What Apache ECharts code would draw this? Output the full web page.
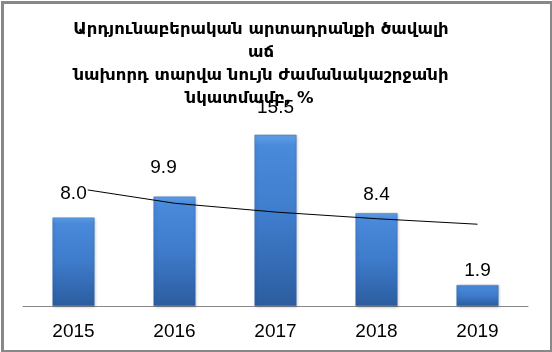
<!DOCTYPE html>
<html>
<head>
<meta charset="utf-8">
<script src="https://cdn.jsdelivr.net/npm/echarts@6/dist/echarts.min.js"></script>
<style>
  html, body { margin: 0; padding: 0; background: #fff; }
  #chart { width: 552px; height: 352px; }
</style>
</head>
<body>
<div id="chart"></div>
<script>
// տարիներ և արժեքներ
const years = ['2015', '2016', '2017', '2018', '2019'];
const growth = [8.0, 9.9, 15.5, 8.4, 1.9];
// լոգարիթմական թրենդ (կարդացված նկարից)
const trend = [10.7, 9.3, 8.5, 7.9, 7.4];

// պիտակների տեղաշարժ [x, y]
const labelShift = [[0, -14], [-11, -19], [0, -17], [0, -9], [0, -5]];

const myChart = echarts.init(document.getElementById('chart'));

const barColor = new echarts.graphic.LinearGradient(0, 0, 0, 1, [
    { offset: 0, color: '#62a2ea' },
    { offset: 0.06, color: '#4a8adb' },
    { offset: 0.5, color: '#3e7bcb' },
    { offset: 1, color: '#2c5d9f' }
]);

const option = {
    animation: false,
    backgroundColor: '#fff',
    title: {
        text: 'Արդյունաբերական արտադրանքի ծավալի\nաճ\nնախորդ տարվա նույն ժամանակաշրջանի\nնկատմամբ, %    ',
        left: 261,
        top: 18,
        padding: 0,
        z: 20,
        textAlign: 'center',
        textStyle: {
            fontFamily: 'DejaVu Sans',
            fontWeight: 'bold',
            fontSize: 16.5,
            lineHeight: 23,
            color: '#000'
        }
    },
    grid: {
        left: 23,
        right: 24,
        top: 85,
        bottom: 46
    },
    xAxis: {
        type: 'category',
        data: years,
        axisLine: { lineStyle: { color: '#888', width: 1 } },
        axisTick: { length: 6, lineStyle: { color: '#888' } },
        axisLabel: {
            margin: 16,
            color: '#000',
            fontFamily: 'Liberation Sans',
            fontSize: 19
        }
    },
    yAxis: {
        type: 'value',
        min: 0,
        max: 20,
        show: false,
        splitLine: { show: false }
    },
    series: [
        {
            name: 'աճ',
            type: 'bar',
            data: growth,
            barWidth: 42,
            z: 2,
            itemStyle: {
                color: barColor,
                borderColor: '#3a6fb5',
                borderWidth: 0.5,
                shadowColor: 'rgba(0,0,0,0.25)',
                shadowBlur: 3,
                shadowOffsetX: 1,
                shadowOffsetY: 1
            }
        },
        {
            name: 'թրենդ',
            type: 'line',
            data: trend,
            z: 3,
            symbol: 'none',
            lineStyle: { color: '#000', width: 1 }
        },
        {
            name: 'պիտակներ',
            type: 'bar',
            barGap: '-100%',
            barWidth: 42,
            z: 4,
            itemStyle: { color: 'rgba(0,0,0,0)' },
            data: growth.map((v, i) => ({
                value: v,
                label: {
                    show: true,
                    position: 'top',
                    distance: 0,
                    offset: labelShift[i],
                    formatter: (p) => p.value.toFixed(1),
                    color: '#000',
                    fontFamily: 'Liberation Sans',
                    fontSize: 19,
                    backgroundColor: i === 0 ? '#fff' : 'transparent',
                    padding: [0, 1]
                }
            }))
        }
    ],
    graphic: [
        {
            type: 'rect',
            left: 0,
            top: 0,
            z: 10,
            silent: true,
            shape: { x: 1, y: 1, width: 549, height: 349 },
            style: { fill: 'none', stroke: '#888', lineWidth: 3 }
        }
    ]
};

myChart.setOption(option);
</script>
</body>
</html>
